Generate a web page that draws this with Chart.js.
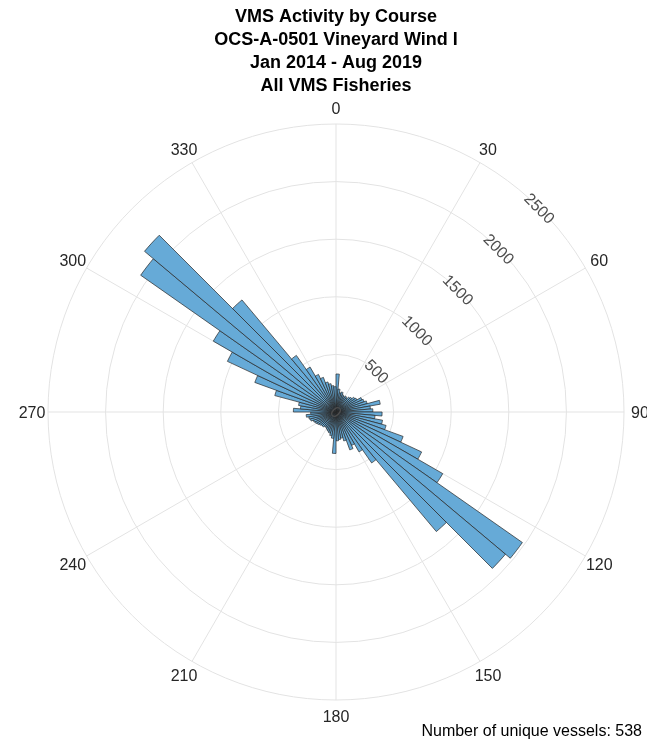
<!DOCTYPE html>
<html>
<head>
<meta charset="utf-8">
<script src="https://cdn.jsdelivr.net/npm/chart.js@4.4.0/dist/chart.umd.min.js"></script>
<style>
  html, body { margin: 0; padding: 0; background: #fff; }
  #wrap { width: 647px; height: 744px; }
</style>
</head>
<body>
<div id="wrap"><canvas id="rose" width="647" height="744"></canvas></div>
<script>
const titleLines = [
    'VMS Activity by Course',
    'OCS-A-0501 Vineyard Wind I',
    'Jan 2014 - Aug 2019',
    'All VMS Fisheries'
];
const footerText = 'Number of unique vessels: 538';

// bin start, degrees clockwise from north (5 degree bins)
const binStart = [
    0, 5, 10, 15, 20, 25, 30, 35, 40, 45, 50, 55,
    60, 65, 70, 75, 80, 85, 90, 95, 100, 105, 110, 115,
    120, 125, 130, 135, 140, 145, 150, 155, 160, 165, 170, 175,
    180, 185, 190, 195, 200, 205, 210, 215, 220, 225, 230, 235,
    240, 245, 250, 255, 260, 265, 270, 275, 280, 285, 290, 295,
    300, 305, 310, 315, 320, 325, 330, 335, 340, 345, 350, 355
];

// VMS records per course bin
const counts = [
    330, 200, 170, 180, 160, 150, 160, 150, 170, 180, 200, 210,
    250, 260, 280, 390, 300, 320, 400, 340, 410, 450, 620, 820,
    1070, 1975, 1920, 1355, 540, 400, 320, 350, 260, 230, 240, 250,
    360, 230, 210, 190, 180, 170, 160, 160, 170, 170, 180, 190,
    200, 210, 230, 240, 260, 220, 370, 310, 330, 550, 750, 1040,
    1230, 2070, 2170, 1270, 600, 450, 360, 320, 270, 250, 230, 220
];

const angleTicks = [0, 30, 60, 90, 120, 150, 180, 210, 240, 270, 300, 330];
const radialTicks = [0, 500, 1000, 1500, 2000, 2500];
const tickAngle = 45;

const FONT = '"Liberation Sans", Arial, Helvetica, sans-serif';

// angle labels, radius labels and the vessel count
const roseLabels = {
    id: 'roseLabels',
    afterDatasetsDraw(chart) {
        const scale = chart.scales.r;
        const c = chart.ctx;
        c.save();
        c.font = '16px ' + FONT;
        c.fillStyle = '#262626';
        c.textAlign = 'center';
        c.textBaseline = 'middle';
        angleTicks.forEach(a => {
            const p = scale.getPointPosition(binStart.indexOf(a), scale.drawingArea + 16);
            c.fillText(String(a), p.x, p.y + 1.5);
        });

        c.fillStyle = '#4d4d4d';
        radialTicks.forEach(v => {
            const d = scale.getDistanceFromCenterForValue(v);
            c.save();
            c.translate(scale.xCenter, scale.yCenter);
            c.rotate(tickAngle * Math.PI / 180);
            c.fillText(String(v), 0, -d + 1);
            c.restore();
        });

        c.fillStyle = '#000';
        c.textAlign = 'right';
        c.font = '16px ' + FONT;
        c.fillText(footerText, 642, 732);
        c.restore();
    }
};

new Chart(document.getElementById('rose').getContext('2d'), {
    type: 'polarArea',
    data: {
        labels: binStart,
        datasets: [{
            data: counts,
            backgroundColor: 'rgb(102, 170, 215)',
            borderColor: '#262626',
            borderWidth: 0.7
        }]
    },
    options: {
        responsive: false,
        animation: false,
        devicePixelRatio: 1,
        layout: { padding: { left: 48, right: 23, top: 0, bottom: 44 } },
        scales: {
            r: {
                min: 0,
                max: 2500,
                startAngle: 0,
                ticks: { display: false, stepSize: 500 },
                grid: { circular: true, color: '#e3e3e3', lineWidth: 1 },
                angleLines: {
                    display: true,
                    lineWidth: 1,
                    color: ctx => (binStart[ctx.index] % 30 === 0 ? '#e3e3e3' : '')
                },
                pointLabels: { display: false }
            }
        },
        plugins: {
            legend: { display: false },
            tooltip: { enabled: false },
            title: {
                display: true,
                text: titleLines,
                color: '#000',
                font: { family: FONT, size: 18, weight: 'bold', lineHeight: '23px' },
                padding: { top: 6, bottom: 26 }
            }
        }
    },
    plugins: [roseLabels]
});
</script>
</body>
</html>
